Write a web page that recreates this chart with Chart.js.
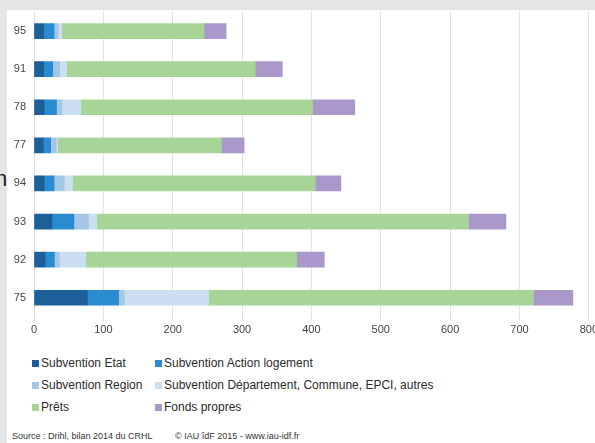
<!DOCTYPE html>
<html lang="fr">
<head>
<meta charset="utf-8">
<title>Plan de financement par département</title>
<script src="https://cdn.jsdelivr.net/npm/chart.js@4/dist/chart.umd.min.js"></script>
<style>
    html, body { margin: 0; padding: 0; }
    body {
        width: 595px;
        height: 443px;
        background: #e4e5e7;
        position: relative;
        overflow: hidden;
        font-family: 'Liberation Sans', Arial, sans-serif;
    }
    .panel {
        position: absolute;
        left: 7px;
        top: 10px;
        right: 0;
        bottom: 0;
        background: #fff;
    }
    .stray {
        position: absolute;
        left: -5px;
        top: 166px;
        font: 22px 'Liberation Sans', Arial, sans-serif;
        color: #222;
    }
    .chart-box {
        position: absolute;
        left: 0;
        top: 0;
        width: 601px;
        height: 340px;
    }
    .legend {
        position: absolute;
        left: 32px;
        top: 355px;
        display: grid;
        grid-template-columns: 123px auto;
        row-gap: 6px;
        font-size: 12px;
        color: #2b2b2b;
    }
    .legend span { display: flex; align-items: center; height: 16px; white-space: nowrap; }
    .legend i { display: inline-block; width: 7px; height: 7px; margin-right: 2px; }
    .source {
        position: absolute;
        top: 431px;
        font-size: 9px;
        color: #333;
        white-space: nowrap;
    }
</style>
</head>
<body>
<div class="panel"></div>
<div class="stray">n</div>
<div class="chart-box"><canvas id="financement-chart" width="601" height="340"></canvas></div>
<div class="legend" id="legend"></div>
<div class="source" style="left:12px">Source : Drihl, bilan 2014 du CRHL</div>
<div class="source" style="left:175px">© IAU îdF 2015 - www.iau-idf.fr</div>
<script>
// departements, top to bottom
const departements = ['95', '91', '78', '77', '94', '93', '92', '75'];

const subventionEtat = [14, 14, 14.5, 13.5, 14.5, 26, 16, 77];
const subventionAction = [15, 13, 18, 10.5, 14.5, 31.5, 13.5, 45];
const subventionRegion = [6, 10, 8, 8, 14.5, 21, 7, 8];
const subventionDepartement = [5, 10, 27, 2, 12, 12, 38, 122];
const prets = [205, 272, 334, 236, 350, 536, 304, 468];
const fondsPropres = [32, 39, 61, 33, 37, 54, 40, 57];

const xTicks = [0, 100, 200, 300, 400, 500, 600, 700, 800];

const series = [
    { label: 'Subvention Etat', data: subventionEtat, color: '#1d5f98' },
    { label: 'Subvention Action logement', data: subventionAction, color: '#2b8bd0' },
    { label: 'Subvention Region', data: subventionRegion, color: '#a3c7e4' },
    { label: 'Subvention Département, Commune, EPCI, autres', data: subventionDepartement, color: '#cbdff0' },
    { label: 'Prêts', data: prets, color: '#a7d597' },
    { label: 'Fonds propres', data: fondsPropres, color: '#aa98ca' }
];

document.addEventListener('DOMContentLoaded', () => {
    const ctx = document.getElementById('financement-chart').getContext('2d');
    const tickFont = { family: "'Liberation Sans', Arial, sans-serif", size: 11 };

    new Chart(ctx, {
        type: 'bar',
        data: {
            labels: departements,
            datasets: series.map(s => ({
                label: s.label,
                data: s.data,
                backgroundColor: s.color,
                borderWidth: 0,
                barThickness: 15
            }))
        },
        options: {
            indexAxis: 'y',
            responsive: false,
            animation: false,
            layout: { padding: { top: 12, left: 0, right: 0, bottom: 0 } },
            plugins: {
                legend: { display: false },
                tooltip: { enabled: false }
            },
            scales: {
                x: {
                    stacked: true,
                    min: 0,
                    max: 800,
                    afterBuildTicks: scale => {
                        scale.ticks = xTicks.map(v => ({ value: v }));
                    },
                    grid: { color: '#e3e3e3', lineWidth: 1, tickLength: 4, drawTicks: true },
                    border: { display: false },
                    ticks: { color: '#444', font: tickFont, padding: 3, maxRotation: 0 }
                },
                y: {
                    stacked: true,
                    afterFit: scale => { scale.width = 34; },
                    grid: { display: false },
                    border: { display: false },
                    ticks: { color: '#444', font: tickFont, padding: 0 }
                }
            }
        }
    });

    // --- Legend (two columns, like the print version) ---
    const legendEl = document.getElementById('legend');
    series.forEach(s => {
        const item = document.createElement('span');
        const box = document.createElement('i');
        box.style.background = s.color;
        item.appendChild(box);
        item.appendChild(document.createTextNode(s.label));
        legendEl.appendChild(item);
    });
});
</script>
</body>
</html>
